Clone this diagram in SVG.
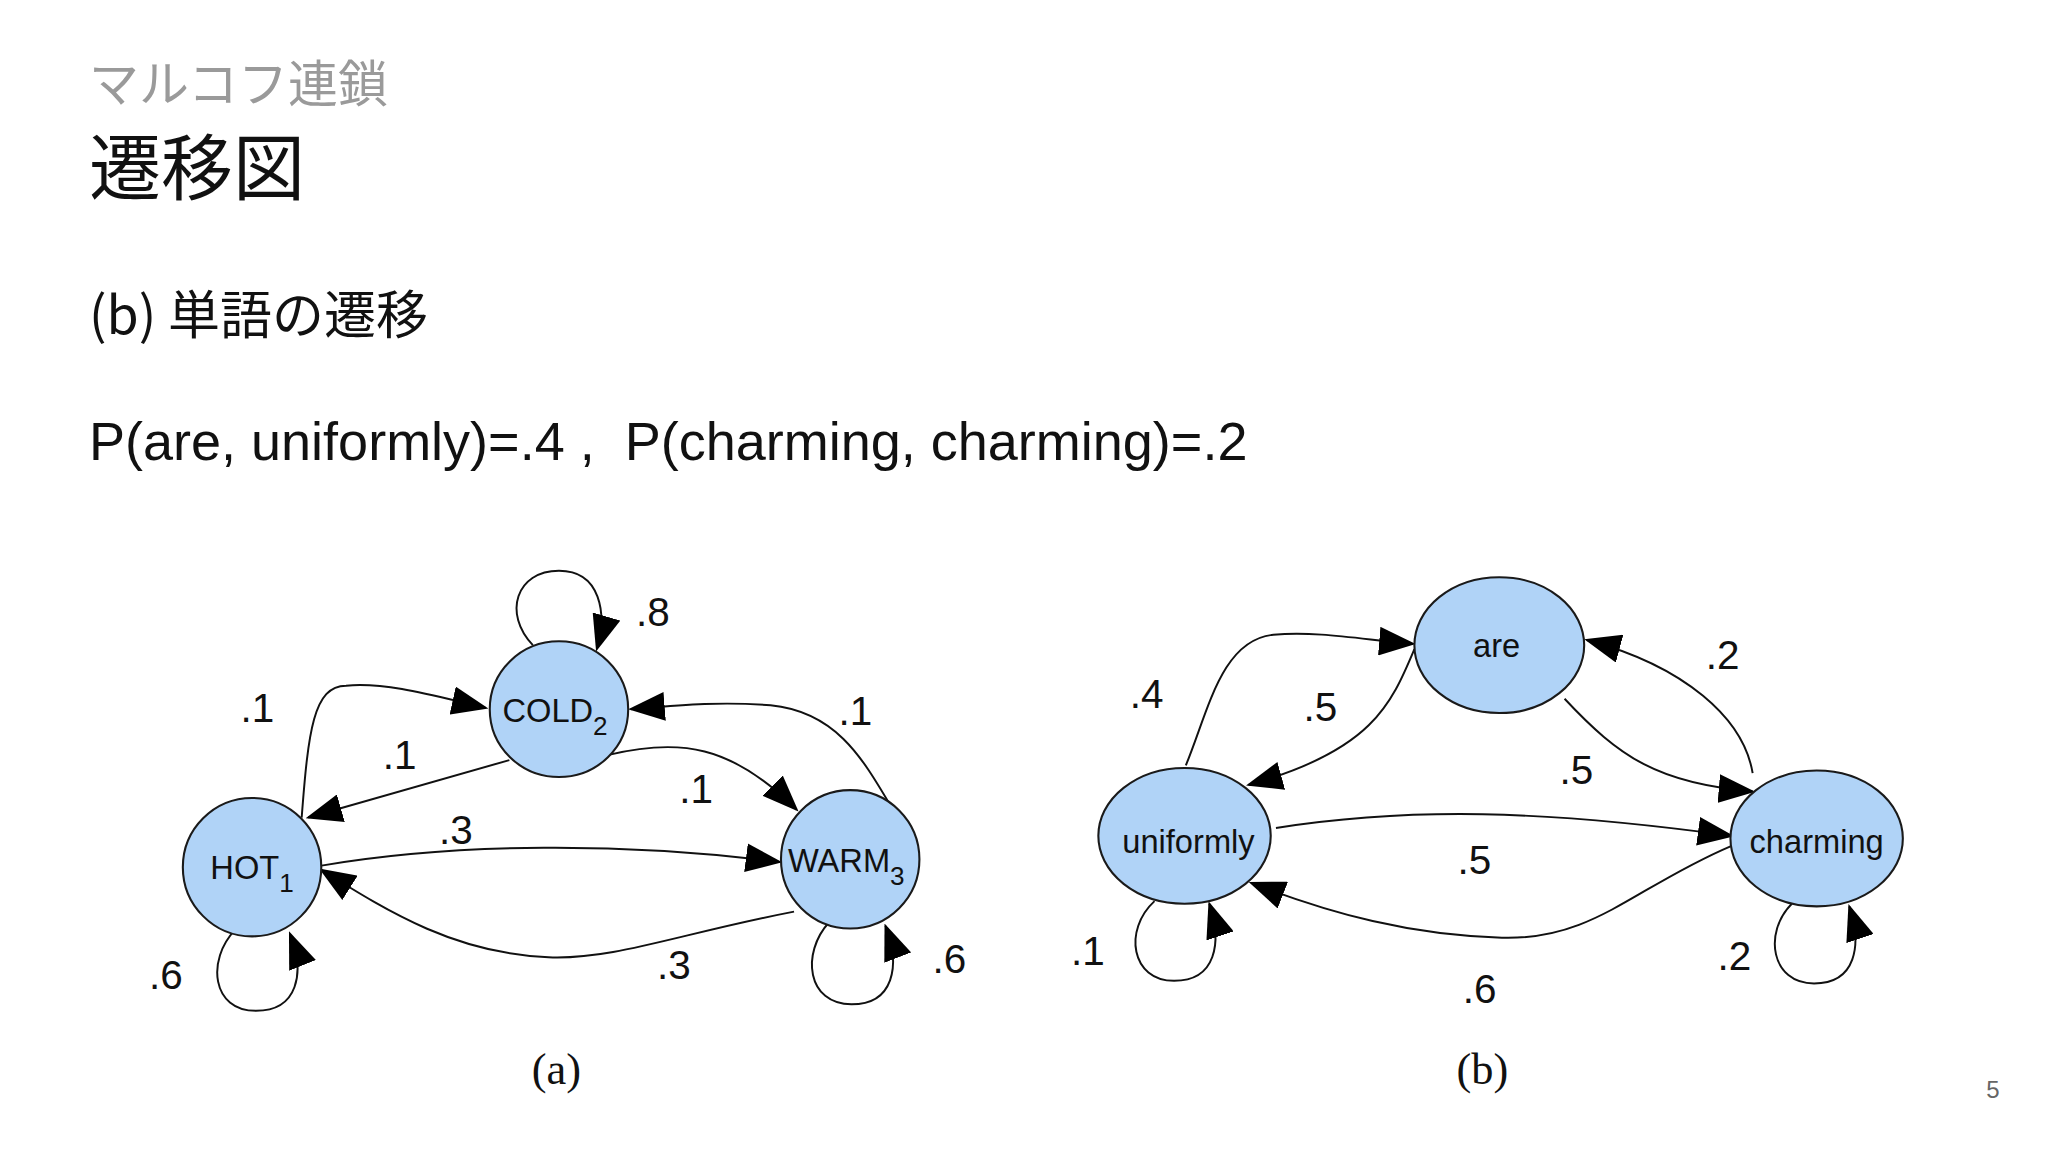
<svg xmlns="http://www.w3.org/2000/svg" width="2048" height="1152" viewBox="0 0 2048 1152">
<style>
.n{fill:#b0d3f7;stroke:#1a1a1a;stroke-width:1.6}
.e{fill:none;stroke:#111;stroke-width:1.5}
.t{font-family:"Liberation Sans",Arial,sans-serif;fill:#111}
.nl{font-size:25px;text-anchor:middle}
.el{font-size:31px;text-anchor:middle}
.cap{font-family:"Liberation Serif",serif;font-size:34px;text-anchor:middle;fill:#111}
.j{font-family:"Noto Sans CJK JP","Liberation Sans",sans-serif}
</style>
<defs>
<marker id="a" markerUnits="userSpaceOnUse" markerWidth="28" markerHeight="22" refX="26" refY="11" orient="auto"><path d="M0,0 L28,11 L0,22 Z" fill="#000"/></marker>
</defs>
<rect width="2048" height="1152" fill="#fff"/>
<text x="89" y="102" class="j" font-size="50" fill="#9a9a9a">マルコフ連鎖</text>
<text x="89" y="194" class="j" font-size="72" fill="#111">遷移図</text>
<text x="89" y="334" class="j" font-size="52" fill="#111">(b) 単語の遷移</text>
<text x="89" y="460" font-family="Liberation Sans,Arial,sans-serif" font-size="54" fill="#111" xml:space="preserve">P(are, uniformly)=.4 ,  P(charming, charming)=.2</text>
<text x="1993" y="1098" font-family="Liberation Sans,Arial,sans-serif" font-size="24" fill="#666" text-anchor="middle">5</text>
<g transform="scale(1.306)">
<g id="connectors">
<path class="e" marker-end="url(#a)" d="M231,626 C236,560 240,525 265,525 C300,522 340,535 372,542"/>
<path class="e" marker-end="url(#a)" d="M390,582 L236,626"/>
<path class="e" marker-end="url(#a)" d="M466,578 C520,565 560,570 610,620"/>
<path class="e" marker-end="url(#a)" d="M682,617 C660,580 640,545 590,540 C550,537 520,540 483,543"/>
<path class="e" marker-end="url(#a)" d="M245,663 C350,645 480,645 597,660"/>
<path class="e" marker-end="url(#a)" d="M608,698 C520,715 470,735 420,733 C350,730 300,700 246,666"/>
<path class="e" marker-end="url(#a)" d="M408,494 C385,470 395,437 428,437 C460,437 465,470 457,497"/>
<path class="e" marker-end="url(#a)" d="M180,712 C158,735 162,774 196,774 C228,774 234,745 222,715"/>
<path class="e" marker-end="url(#a)" d="M635,706 C613,730 618,769 652,769 C684,769 690,740 678,709"/>
<path class="e" marker-end="url(#a)" d="M908,586 C925,545 935,490 975,486 C1010,483 1045,490 1082,493"/>
<path class="e" marker-end="url(#a)" d="M1083,497 C1065,540 1050,575 956,601"/>
<path class="e" marker-end="url(#a)" d="M1198,535 C1240,580 1270,600 1342,606"/>
<path class="e" marker-end="url(#a)" d="M1342,592 C1335,550 1290,510 1215,490"/>
<path class="e" marker-end="url(#a)" d="M977,634 C1080,618 1180,620 1326,640"/>
<path class="e" marker-end="url(#a)" d="M1325,648 C1250,680 1220,720 1150,718 C1080,716 1020,700 958,676"/>
<path class="e" marker-end="url(#a)" d="M884,690 C860,712 866,751 899,751 C931,751 936,722 926,692"/>
<path class="e" marker-end="url(#a)" d="M1372,692 C1350,714 1356,753 1389,753 C1421,753 1426,724 1416,694"/>
</g>
<g id="hot"><circle class="n" cx="193" cy="664" r="53"/><text class="t nl" x="193" y="673">HOT<tspan font-size="20" dy="10">1</tspan></text></g>
<g id="cold"><ellipse class="n" cx="428" cy="543" rx="53" ry="52"/><text class="t nl" x="425" y="553">COLD<tspan font-size="20" dy="10">2</tspan></text></g>
<g id="warm"><circle class="n" cx="651" cy="658" r="53"/><text class="t nl" x="648" y="668">WARM<tspan font-size="20" dy="10">3</tspan></text></g>
<g id="are"><ellipse class="n" cx="1148" cy="494" rx="65" ry="52"/><text class="t nl" x="1146" y="503">are</text></g>
<g id="uniformly"><ellipse class="n" cx="907" cy="640" rx="66" ry="52"/><text class="t nl" x="910" y="653">uniformly</text></g>
<g id="charming"><ellipse class="n" cx="1391" cy="642" rx="66" ry="52"/><text class="t nl" x="1391" y="653">charming</text></g>
<g id="labels" class="t el">
<text x="500" y="479">.8</text><text x="197" y="553">.1</text><text x="306" y="589">.1</text>
<text x="655" y="555">.1</text><text x="533" y="615">.1</text><text x="349" y="646">.3</text>
<text x="516" y="750">.3</text><text x="127" y="757">.6</text><text x="727" y="745">.6</text>
<text x="878" y="542">.4</text><text x="1011" y="552">.5</text><text x="1319" y="512">.2</text>
<text x="1207" y="600">.5</text><text x="1129" y="669">.5</text><text x="1133" y="768">.6</text>
<text x="833" y="739">.1</text><text x="1328" y="743">.2</text>
</g>
<text class="cap" x="426" y="830">(a)</text>
<text class="cap" x="1135" y="830">(b)</text>
</g>
</svg>
